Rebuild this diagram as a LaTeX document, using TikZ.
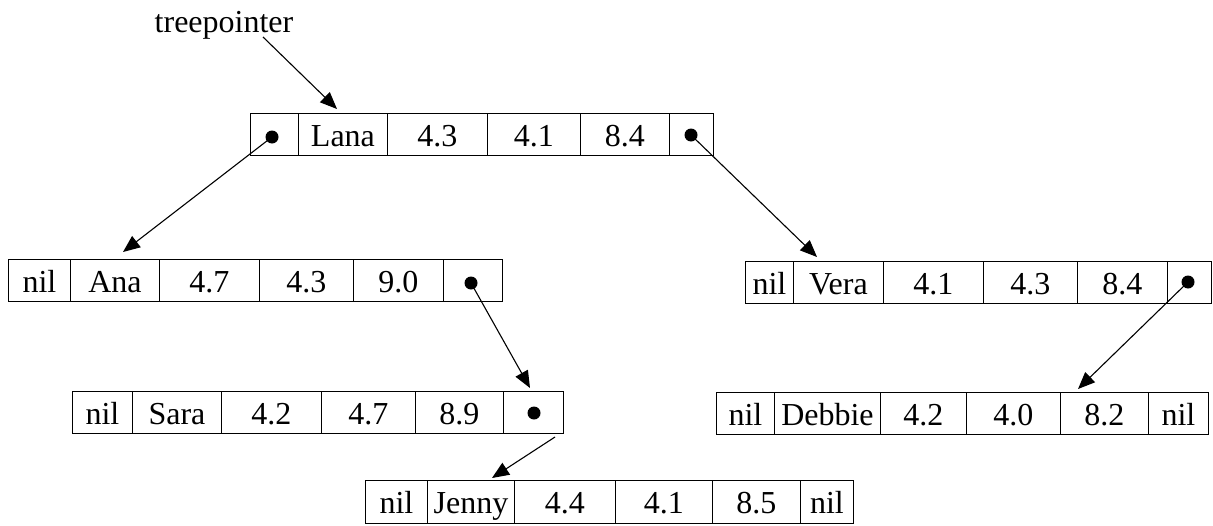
\documentclass[tikz,border=0pt]{standalone}
\usepackage{fontspec}
\setmainfont{Liberation Serif}
\usetikzlibrary{arrows.meta}
\newcommand\mycell[6]{%
  \node[cell, minimum width={#3pt-#2pt}, minimum height={#5pt-#4pt}] (#1) at (#2,#4) {#6};}
\begin{document}
\begin{tikzpicture}[x=1pt,y=-1pt,
  cell/.style={draw, line width=0.9pt, rectangle, inner sep=0pt, anchor=north west,
    text height=24pt, text depth=0pt, font=\fontsize{32}{32}\selectfont},
  dotnode/.style={circle, fill=black, inner sep=0pt, minimum size=13pt},
  ptr/.style={line width=1.1pt, -{Triangle[length=17pt,width=14pt]}},
  lbl/.style={font=\fontsize{32}{32}\selectfont, anchor=base}]
\useasboundingbox (0,0) rectangle (1213,525);

% treepointer
\node[lbl] (tp) at (224,32) {treepointer};
\coordinate (tpS) at (263,37);
\coordinate (tpE) at (337,109);

% Lana row
\mycell{l1}{250}{298}{113}{155}{}
\mycell{l2}{298}{387}{113}{155}{Lana}
\mycell{l3}{387}{487}{113}{155}{4.3}
\mycell{l4}{487}{580}{113}{155}{4.1}
\mycell{l5}{580}{669}{113}{155}{8.4}
\mycell{l6}{669}{713}{113}{155}{}
\node[dotnode] (lanaL) at (272,137) {};
\node[dotnode] (lanaR) at (691,135) {};

% Ana row
\mycell{a1}{8}{70}{259}{301}{nil}
\mycell{a2}{70}{159}{259}{301}{Ana}
\mycell{a3}{159}{259}{259}{301}{4.7}
\mycell{a4}{259}{353}{259}{301}{4.3}
\mycell{a5}{353}{443}{259}{301}{9.0}
\mycell{a6}{443}{502}{259}{301}{}
\node[dotnode] (anaD) at (471,283) {};

% Vera row
\mycell{v1}{745}{793}{261}{303}{nil}
\mycell{v2}{793}{883}{261}{303}{Vera}
\mycell{v3}{883}{983}{261}{303}{4.1}
\mycell{v4}{983}{1077}{261}{303}{4.3}
\mycell{v5}{1077}{1167}{261}{303}{8.4}
\mycell{v6}{1167}{1211}{261}{303}{}
\node[dotnode] (veraD) at (1188,282) {};

% Sara row
\mycell{s1}{72}{132}{391}{433}{nil}
\mycell{s2}{132}{221}{391}{433}{Sara}
\mycell{s3}{221}{321}{391}{433}{4.2}
\mycell{s4}{321}{415}{391}{433}{4.7}
\mycell{s5}{415}{503}{391}{433}{8.9}
\mycell{s6}{503}{563}{391}{433}{}
\node[dotnode] (saraD) at (534,413) {};

% Debbie row
\mycell{d1}{716}{774}{392}{434}{nil}
\mycell{d2}{774}{880}{392}{434}{Debbie}
\mycell{d3}{880}{966}{392}{434}{4.2}
\mycell{d4}{966}{1060}{392}{434}{4.0}
\mycell{d5}{1060}{1148}{392}{434}{8.2}
\mycell{d6}{1148}{1208}{392}{434}{nil}

% Jenny row
\mycell{j1}{365}{427}{480}{523}{nil}
\mycell{j2}{427}{514}{480}{523}{Jenny}
\mycell{j3}{514}{615}{480}{523}{4.4}
\mycell{j4}{615}{712}{480}{523}{4.1}
\mycell{j5}{712}{800}{480}{523}{8.5}
\mycell{j6}{800}{853}{480}{523}{nil}

% targets
\coordinate (tAna) at (123,252);
\coordinate (tVera) at (817,257);
\coordinate (tSara) at (530,388);
\coordinate (tDeb) at (1078,389);
\coordinate (sStart) at (555,437);
\coordinate (tJen) at (492,478);

% arrows
\draw[ptr] (tpS) -- (tpE);
\draw[ptr] (lanaL.center) -- (tAna);
\draw[ptr] (lanaR.center) -- (tVera);
\draw[ptr] (anaD.center) -- (tSara);
\draw[ptr] (veraD.center) -- (tDeb);
\draw[ptr] (sStart) -- (tJen);
\end{tikzpicture}
\end{document}
